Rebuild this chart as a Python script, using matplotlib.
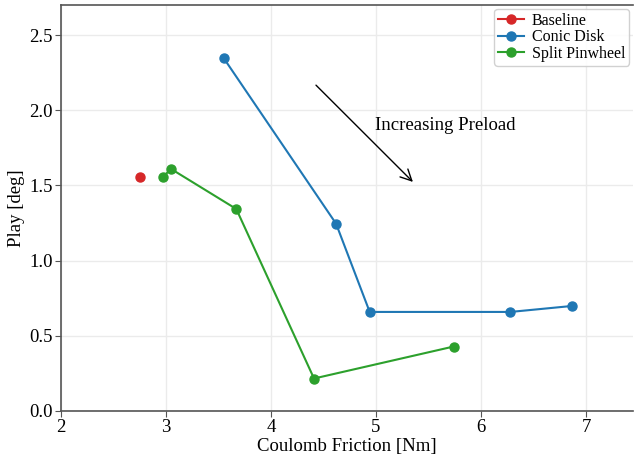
import matplotlib
matplotlib.use("Agg")
import matplotlib.pyplot as plt

plt.rcParams['font.family'] = ['Liberation Serif', 'DejaVu Serif']
plt.rcParams['mathtext.fontset'] = 'stix'

# friction [Nm] vs play [deg] for each spring design
baseline_x = [2.75]
baseline_y = [1.556]

conic_x = [3.55, 4.62, 4.94, 6.28, 6.87]
conic_y = [2.347, 1.245, 0.658, 0.658, 0.698]

split_x = [2.97, 3.05, 3.67, 4.41, 5.74]
split_y = [1.556, 1.609, 1.343, 0.215, 0.428]

fig, ax = plt.subplots(figsize=(6.34, 4.58), dpi=100)

ax.plot(baseline_x, baseline_y, 'o-', color='tab:red', label='Baseline', markersize=6.5, lw=1.5)
ax.plot(conic_x, conic_y, 'o-', color='tab:blue', label='Conic Disk', markersize=6.5, lw=1.5)
ax.plot(split_x, split_y, 'o-', color='tab:green', label='Split Pinwheel', markersize=6.5, lw=1.5)

ax.annotate('', xy=(5.37, 1.51), xytext=(4.41, 2.18),
            arrowprops=dict(arrowstyle='->', color='black', lw=1.0, mutation_scale=20))
ax.text(5.66, 1.9, 'Increasing Preload', ha='center', va='center', fontsize=13.5)

ax.set_xlim(2, 7.45)
ax.set_ylim(0, 2.7)
ax.set_xticks([2, 3, 4, 5, 6, 7])
ax.set_yticks([0, 0.5, 1.0, 1.5, 2.0, 2.5])
ax.set_xlabel('Coulomb Friction [Nm]', fontsize=13.5, labelpad=1)
ax.set_ylabel('Play [deg]', fontsize=13.5, labelpad=3)
ax.tick_params(labelsize=13.5, color='#555555', length=4, pad=2)
ax.grid(True, color='#ebebeb', lw=1.0)
ax.set_axisbelow(True)
for side in ['left', 'bottom', 'top']:
    ax.spines[side].set_color('#555555')
    ax.spines[side].set_linewidth(1.2)
ax.spines['right'].set_visible(False)

ax.legend(loc='upper right', fontsize=11.5, handlelength=1.6, borderpad=0.25,
          labelspacing=0.02, handletextpad=0.5, fancybox=True, framealpha=0.9,
          borderaxespad=0.25)

fig.subplots_adjust(left=0.096, right=0.999, top=0.989, bottom=0.103)
fig.savefig('out.png', dpi=100)
